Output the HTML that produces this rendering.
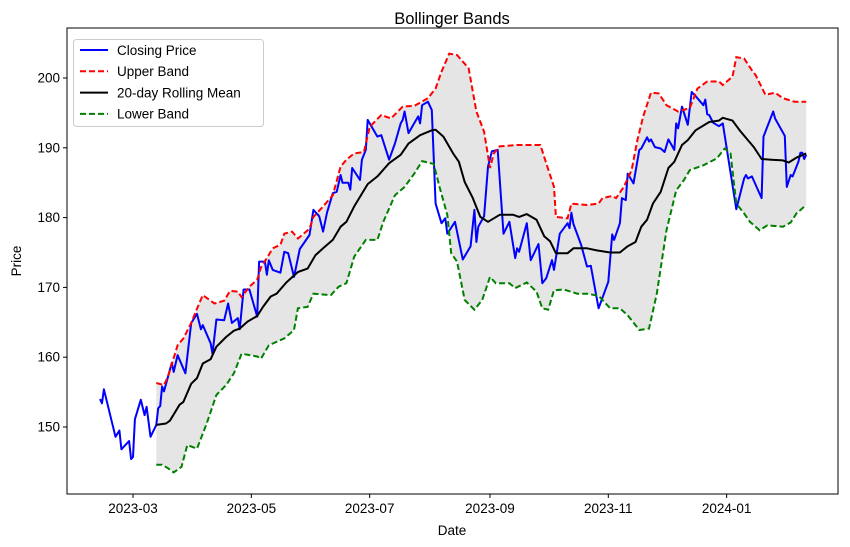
<!DOCTYPE html>
<html><head><meta charset="utf-8"><style>
html,body{margin:0;padding:0;background:#fff;}
svg{display:block;font-family:"Liberation Sans","DejaVu Sans",sans-serif;}
</style></head><body>
<svg id="chart" width="850" height="547" viewBox="0 0 850 547">
<text x="452" y="24" text-anchor="middle" font-size="16.5">Bollinger Bands</text>
<g id="plot"></g>
<text x="452" y="535" text-anchor="middle" font-size="13.5">Date</text>
<text transform="translate(21,261) rotate(-90)" text-anchor="middle" font-size="13.5">Price</text>
</svg>
<script>
// days since 2023-03-01
const closeDays=[-17,-16,-15,-9,-7,-6,-2,-1,0,1,4,6,7,9,12,13,14,15,16,20,21,23,27,30,33,35,36,40,41,43,47,49,51,54,55,57,60,64,65,68,69,70,72,76,78,80,83,86,91,93,96,98,100,103,105,107,108,110,111,112,113,117,118,120,121,126,128,132,135,138,139,140,142,147,148,149,152,154,156,159,161,162,166,170,174,176,177,178,181,183,185,188,191,194,197,198,199,203,205,209,211,213,216,217,220,224,225,226,227,231,234,236,240,245,247,248,251,252,254,255,258,261,262,265,266,267,269,272,274,276,279,280,281,283,286,288,290,294,295,296,297,299,302,304,311,315,316,317,319,324,325,330,331,336,337,339,340,343,344,345,346,347];
const closeVals=[154.0,153.4,155.4,148.6,149.5,146.8,148.0,145.4,145.7,151.1,153.9,151.7,152.9,148.6,150.3,152.7,153.0,155.8,155.1,159.2,157.9,160.3,157.7,164.9,166.2,164.0,164.6,162.0,160.5,165.4,165.3,167.7,164.9,165.6,164.0,169.7,169.7,165.8,173.7,173.7,171.8,173.9,172.5,172.1,175.1,174.9,171.5,175.5,177.5,181.1,180.2,178.0,180.7,183.5,183.7,186.1,185.0,185.0,185.0,184.0,187.1,185.4,188.3,189.7,194.0,191.6,191.8,188.3,190.6,193.5,194.0,195.2,192.1,194.5,193.5,196.1,196.6,195.4,182.0,179.2,179.9,177.7,179.4,174.0,175.9,181.1,176.5,178.7,180.2,187.3,189.5,189.7,177.7,179.4,174.2,175.6,175.1,179.2,173.9,176.2,170.6,171.3,173.9,172.5,177.7,179.2,178.5,180.7,179.1,176.1,173.0,173.1,167.0,170.8,177.6,176.8,179.2,182.8,182.5,186.3,184.9,189.7,189.9,191.5,190.9,191.2,190.1,189.9,189.4,191.2,189.7,193.5,192.8,195.9,193.3,198.0,197.4,196.1,196.9,194.8,194.7,193.6,193.1,193.5,181.2,185.6,186.1,185.6,185.9,182.8,191.6,195.2,194.2,191.7,184.4,186.1,185.9,188.0,189.3,189.3,188.4,189.0];
const meanDays=[12,17,19,24,26,30,33,36,40,43,48,52,55,59,64,67,71,74,79,85,90,94,98,103,107,110,114,121,126,132,138,142,148,154,156,160,165,168,171,175,179,183,189,196,199,203,208,212,215,218,224,227,234,239,246,251,255,259,262,265,268,272,276,279,283,286,290,297,302,304,309,313,320,324,329,335,338,342,347];
const meanVals=[150.3,150.5,150.9,153.2,153.6,156.2,157.0,159.1,159.7,161.5,162.9,163.8,164.1,165.1,165.9,167.2,168.7,169.1,170.7,172.2,172.7,174.6,175.6,176.8,178.7,179.4,181.6,184.8,185.9,187.8,189.0,190.6,191.8,192.5,192.6,191.6,189.2,188.0,185.1,182.9,180.1,179.4,180.4,180.4,180.1,180.5,179.7,177.3,176.6,174.9,174.9,175.6,175.6,175.3,175.0,175.0,175.9,176.5,178.7,179.7,182.0,183.7,187.1,188.0,190.4,191.1,192.5,193.7,193.9,194.3,193.9,192.4,190.1,188.4,188.3,188.2,187.9,188.6,189.2];
const upperDays=[12,16,18,23,26,30,32,36,42,47,50,54,56,60,64,66,69,72,76,78,82,85,91,93,98,103,107,110,114,119,122,128,133,139,145,152,156,159,163,167,173,177,181,184,186,189,198,210,213,217,218,224,226,234,240,242,247,249,253,257,260,263,267,271,275,281,287,291,296,302,304,309,311,315,319,321,326,331,335,341,347];
const upperVals=[156.3,156.0,157.2,161.7,162.7,164.9,166.3,168.9,167.7,168.1,169.5,169.4,168.6,170.1,171.1,172.9,174.2,175.6,176.1,177.7,178.0,177.0,178.4,180.1,181.6,183.2,187.3,188.3,189.2,189.4,193.0,194.7,194.2,195.9,196.0,197.1,198.5,200.9,203.5,203.3,201.4,195.2,192.3,187.1,189.2,190.2,190.4,190.4,187.8,184.4,180.1,179.9,182.0,181.8,182.0,182.8,183.1,182.8,184.4,186.8,191.1,194.5,197.9,197.8,196.1,195.2,195.7,198.5,199.5,199.5,199.0,200.2,203.0,202.8,201.1,200.4,197.6,197.9,197.1,196.6,196.6];
const lowerDays=[12,15,18,21,25,28,33,38,43,48,52,56,64,66,70,78,83,85,90,93,102,106,110,114,120,126,129,135,140,145,149,155,158,162,164,167,171,176,180,184,187,194,197,203,208,211,214,217,222,229,234,240,246,251,255,261,266,270,275,280,284,287,294,301,305,308,311,315,318,323,327,335,339,342,347];
const lowerVals=[144.6,144.6,144.1,143.5,144.3,147.4,146.9,150.5,154.6,156.0,157.7,160.5,160.1,159.8,161.7,162.7,163.9,167.0,167.2,169.1,168.9,170.1,170.6,174.4,176.8,176.8,179.4,183.2,184.4,186.3,188.1,187.7,184.4,180.4,174.9,173.7,168.2,166.8,168.2,171.5,170.6,170.6,169.9,170.7,169.4,167.0,166.8,169.6,169.7,169.1,169.1,168.8,167.0,167.0,166.0,163.9,164.1,169.1,178.2,183.9,185.4,186.8,187.5,188.5,189.9,189.2,182.0,180.6,179.4,178.2,178.9,178.7,179.3,180.6,181.8];
const yTicks=[150,160,170,180,190,200];
const xTickLabels=["2023-03","2023-05","2023-07","2023-09","2023-11","2024-01"];
const xTickDays=[0,61,122,184,245,306];

const NS="http://www.w3.org/2000/svg";
const L=67,R=838,T=28,B=494;
const xS=d=>133+d*1.94;
const yS=v=>427-(v-150)*6.98;
const plot=document.getElementById('plot');
function mk(tag,attrs,parent){const e=document.createElementNS(NS,tag);for(const k in attrs)e.setAttribute(k,attrs[k]);(parent||plot).appendChild(e);return e;}
function pts(ds,vs){return ds.map((d,i)=>xS(d).toFixed(1)+','+yS(vs[i]).toFixed(1)).join(' ');}

const band=mk('polygon',{points:pts(upperDays,upperVals)+' '+pts(lowerDays.slice().reverse(),lowerVals.slice().reverse()),fill:'#e5e5e5',stroke:'none'});



const cl=mk('polyline',{points:pts(closeDays,closeVals),fill:'none',stroke:'#0000ff','stroke-width':2,'stroke-linejoin':'round'});


const up=mk('polyline',{points:pts(upperDays,upperVals),fill:'none',stroke:'#ff0000','stroke-width':2,'stroke-dasharray':'6,3'});


const mn=mk('polyline',{points:pts(meanDays,meanVals),fill:'none',stroke:'#000','stroke-width':2,'stroke-linejoin':'round'});


const lo=mk('polyline',{points:pts(lowerDays,lowerVals),fill:'none',stroke:'#008000','stroke-width':2,'stroke-dasharray':'6,3'});



const frame=mk('rect',{x:L,y:T,width:R-L,height:B-T,fill:'none',stroke:'#000','stroke-width':1});



yTicks.forEach(v=>{
  const y=yS(v);
  const t=mk('line',{x1:L-4,x2:L,y1:y,y2:y,stroke:'#000'});
  
  
  const tx=mk('text',{x:L-7,y:y+4.5,'text-anchor':'end','font-size':13.5});
  tx.textContent=v;
  
  
});
xTickDays.forEach((d,i)=>{
  const x=xS(d);
  const t=mk('line',{x1:x,x2:x,y1:B,y2:B+4,stroke:'#000'});
  
  
  const tx=mk('text',{x:x,y:B+19,'text-anchor':'middle','font-size':13.5});
  tx.textContent=xTickLabels[i];
  
  
});

// legend
const lg=mk('g',{});


mk('rect',{x:73.5,y:39.5,width:190,height:87,rx:3,fill:'#fff','fill-opacity':0.8,stroke:'#ccc'},lg);
const entries=[['Closing Price','#0000ff',''],['Upper Band','#ff0000','6,3'],['20-day Rolling Mean','#000',''],['Lower Band','#008000','6,3']];
entries.forEach((e,i)=>{
  const y=50+i*21.3;
  const g=mk('g',{},lg);
  
  
  const ln={x1:80,x2:108,y1:y,y2:y,stroke:e[1],'stroke-width':2};
  if(e[2])ln['stroke-dasharray']=e[2];
  mk('line',ln,g);
  const tx=mk('text',{x:117,y:y+4.8,'font-size':13.5},g);
  tx.textContent=e[0];
});
</script>
</body></html>
